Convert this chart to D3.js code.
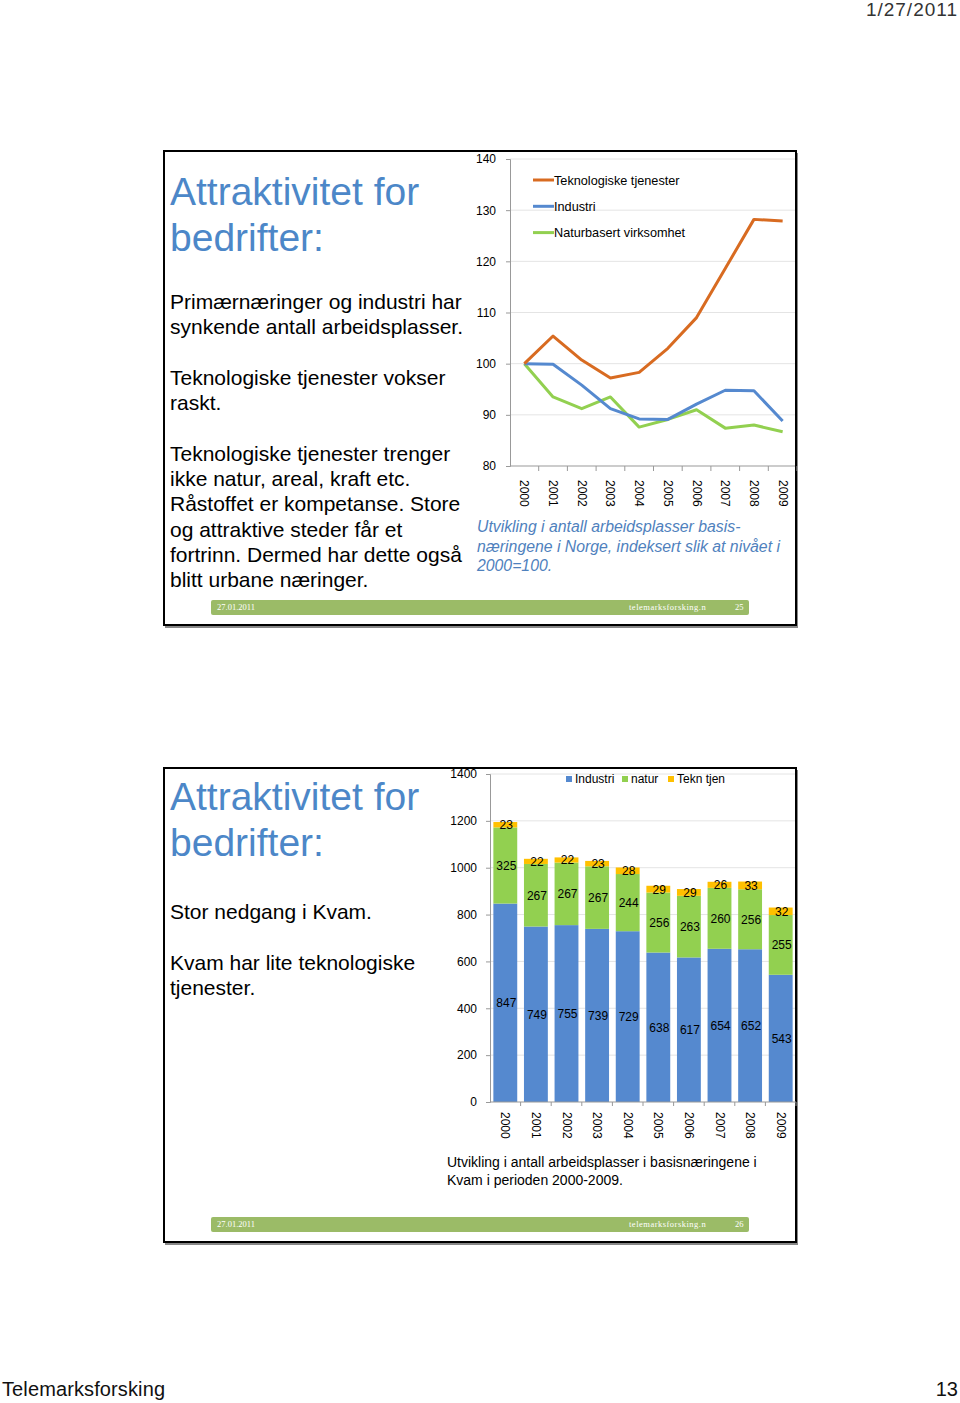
<!DOCTYPE html>
<html lang="no">
<head>
<meta charset="UTF-8">
<title>Attraktivitet for bedrifter</title>
<script src="https://d3js.org/d3.v7.min.js"></script>
<style>
    body { margin: 0; background: #fff; }
    svg { display: block; font-family: "Liberation Sans", Arial, sans-serif; }
    .grid line { stroke: #e4e4e4; }
    .tick text { fill: #000; }
</style>
</head>
<body>
<svg id="page" width="960" height="1403"></svg>
<script>
// --- data ---
const years = ["2000","2001","2002","2003","2004","2005","2006","2007","2008","2009"];

// slide 25: index 2000=100
const teknIndex = [100, 105.4, 100.7, 97.2, 98.3, 103, 109, 118.6, 128.2, 127.9];
const industriIndex = [100, 99.9, 95.8, 91.2, 89.2, 89.1, 92.1, 94.8, 94.7, 88.8];
const naturIndex = [100, 93.5, 91.2, 93.5, 87.6, 89.1, 91.0, 87.4, 88.0, 86.7];
const lineNames = ["Teknologiske tjenester", "Industri", "Naturbasert virksomhet"];
const indexTicks = [80, 90, 100, 110, 120, 130, 140];

// slide 26: Kvam, number of jobs
const kvamIndustri = [847, 749, 755, 739, 729, 638, 617, 654, 652, 543];
const kvamNatur = [325, 267, 267, 267, 244, 256, 263, 260, 256, 255];
const kvamTekn = [23, 22, 22, 23, 28, 29, 29, 26, 33, 32];
const barNames = ["Industri", "natur", "Tekn tjen"];
const countTicks = [0, 200, 400, 600, 800, 1000, 1200, 1400];

const colOrange = "#d86b21", colBlue = "#5589cf", colGreen = "#92d050", colYellow = "#ffc000";
const titleBlue = "#4c87c8";

const svg = d3.select("#page");

// page header / footer
svg.append("text").attr("x", 958).attr("y", 16).attr("text-anchor", "end")
    .attr("font-size", 19).attr("fill", "#333").attr("letter-spacing", 1).text("1/27/2011");
svg.append("text").attr("x", 2).attr("y", 1396).attr("font-size", 20).attr("fill", "#111")
    .attr("textLength", 163).text("Telemarksforsking");
svg.append("text").attr("x", 958).attr("y", 1396).attr("text-anchor", "end")
    .attr("font-size", 20).attr("fill", "#111").text("13");

function slideFrame(top, pageNo) {
    svg.append("rect").attr("x", 165).attr("y", top + 2).attr("width", 633).attr("height", 475)
        .attr("fill", "#888");
    svg.append("rect").attr("x", 164).attr("y", top).attr("width", 632).attr("height", 474)
        .attr("fill", "#fff").attr("stroke", "#000").attr("stroke-width", 2);
    // green footer bar
    const fy = top + 449;
    svg.append("rect").attr("x", 211).attr("y", fy).attr("width", 538).attr("height", 15)
        .attr("rx", 2).attr("fill", "#9bbb67");
    const ft = svg.append("g").attr("font-family", "'Liberation Serif', serif")
        .attr("font-size", 8.5).attr("fill", "#fff");
    ft.append("text").attr("x", 217).attr("y", fy + 10).text("27.01.2011");
    ft.append("text").attr("x", 629).attr("y", fy + 10).attr("letter-spacing", 0.5).text("telemarksforsking.n");
    ft.append("text").attr("x", 735).attr("y", fy + 10).text(pageNo);
}

function textLines(lines, x, y0, step, size, color, italic) {
    const t = svg.append("text").attr("font-size", size).attr("fill", color)
        .attr("font-style", italic ? "italic" : null);
    lines.forEach((s, i) => {
        t.append("tspan").attr("x", x).attr("y", y0 + i * step).text(s);
    });
}

// ---------- slide 25 ----------
slideFrame(151, "25");
textLines(["Attraktivitet for", "bedrifter:"], 170, 205, 46, 39, titleBlue);
textLines(["Primærnæringer og industri har", "synkende antall arbeidsplasser."], 170, 309, 25.3, 21, "#000");
textLines(["Teknologiske tjenester vokser", "raskt."], 170, 385, 25.3, 21, "#000");
textLines(["Teknologiske tjenester trenger", "ikke natur, areal, kraft etc.",
    "Råstoffet er kompetanse. Store", "og attraktive steder får et",
    "fortrinn. Dermed har dette også", "blitt urbane næringer."], 170, 461, 25.2, 21, "#000");
textLines(["Utvikling i antall arbeidsplasser basis-", "næringene i Norge, indeksert slik at nivået i",
    "2000=100."], 477, 532, 19.5, 15.8, "#4f81bd", true);

const lx = d3.scaleBand().domain(years).range([510, 797]);
const ly = d3.scaleLinear().domain([80, 140]).range([466, 159]);

svg.append("g").attr("class", "grid").selectAll("line").data(indexTicks.slice(1)).join("line")
    .attr("x1", 510).attr("x2", 795).attr("y1", d => ly(d)).attr("y2", d => ly(d));

svg.append("g").attr("transform", "translate(510,0)")
    .call(d3.axisLeft(ly).tickValues(indexTicks).tickSize(4).tickPadding(10))
    .call(g => g.selectAll("text").attr("font-size", 12).attr("font-family", "'Liberation Sans', Arial"))
    .call(g => g.selectAll("line,path").attr("stroke", "#999"));

const lxAxis = svg.append("g").attr("transform", "translate(0,466)");
lxAxis.append("line").attr("x1", 510).attr("x2", 795).attr("stroke", "#999");
lxAxis.selectAll(".sep").data(years).join("line").attr("class", "sep")
    .attr("x1", d => lx(d) + lx.bandwidth()).attr("x2", d => lx(d) + lx.bandwidth())
    .attr("y1", 0).attr("y2", 5).attr("stroke", "#999");
lxAxis.selectAll(".yl").data(years).join("text").attr("class", "yl")
    .attr("transform", d => `translate(${lx(d) + lx.bandwidth() / 2 - 4},14) rotate(90)`)
    .attr("font-size", 12).text(d => d);

const lineGen = d3.line().x((d, i) => lx(years[i]) + lx.bandwidth() / 2).y(d => ly(d));
const lineSeries = [teknIndex, industriIndex, naturIndex];
const lineColors = [colOrange, colBlue, colGreen];
// draw in reverse so the orange ends up on top
[2, 1, 0].forEach(k => {
    svg.append("path").datum(lineSeries[k]).attr("d", lineGen).attr("fill", "none")
        .attr("stroke", lineColors[k]).attr("stroke-width", 3).attr("stroke-linejoin", "round");
});

const lleg = svg.append("g");
lineNames.forEach((n, i) => {
    const yy = 180 + i * 26.3;
    lleg.append("line").attr("x1", 533).attr("x2", 554).attr("y1", yy).attr("y2", yy)
        .attr("stroke", lineColors[i]).attr("stroke-width", 3);
    lleg.append("text").attr("x", 554).attr("y", yy + 4.5).attr("font-size", 12.7).text(n);
});

// ---------- slide 26 ----------
slideFrame(768, "26");
textLines(["Attraktivitet for", "bedrifter:"], 170, 810, 46, 39, titleBlue);
textLines(["Stor nedgang i Kvam."], 170, 919, 25.3, 21, "#000");
textLines(["Kvam har lite teknologiske", "tjenester."], 170, 970, 25.3, 21, "#000");
textLines(["Utvikling i antall arbeidsplasser i basisnæringene i", "Kvam i perioden 2000-2009."],
    447, 1167, 17.5, 14, "#000");

const bx = d3.scaleBand().domain(years).range([490, 796]).paddingInner(0.22).paddingOuter(0.11);
const by = d3.scaleLinear().domain([0, 1400]).range([1102, 774]);

svg.append("g").attr("class", "grid").selectAll("line").data(countTicks.slice(1)).join("line")
    .attr("x1", 490).attr("x2", 795).attr("y1", d => by(d)).attr("y2", d => by(d));

svg.append("g").attr("transform", "translate(490,0)")
    .call(d3.axisLeft(by).tickValues(countTicks).tickFormat(d3.format("d")).tickSize(4).tickPadding(9))
    .call(g => g.selectAll("text").attr("font-size", 12).attr("font-family", "'Liberation Sans', Arial"))
    .call(g => g.selectAll("line,path").attr("stroke", "#999"));

const stackRows = years.map((y, i) => ({ year: y, Industri: kvamIndustri[i], natur: kvamNatur[i], "Tekn tjen": kvamTekn[i] }));
const stacked = d3.stack().keys(barNames)(stackRows);
const barColors = [colBlue, colGreen, colYellow];

stacked.forEach((layer, k) => {
    const g = svg.append("g");
    g.selectAll("rect").data(layer).join("rect")
        .attr("x", d => bx(d.data.year)).attr("width", bx.bandwidth())
        .attr("y", d => by(d[1])).attr("height", d => by(d[0]) - by(d[1]))
        .attr("fill", barColors[k]);
    g.selectAll("text").data(layer).join("text")
        .attr("x", d => bx(d.data.year) + bx.bandwidth() / 2 + 1)
        .attr("y", d => by((d[0] + d[1]) / 2) + 4.5)
        .attr("text-anchor", "middle").attr("font-size", 12).attr("fill", "#000")
        .text(d => d[1] - d[0]);
});

const bxAxis = svg.append("g").attr("transform", "translate(0,1102)");
bxAxis.append("line").attr("x1", 490).attr("x2", 796).attr("stroke", "#999");
bxAxis.selectAll(".sep").data(years).join("line").attr("class", "sep")
    .attr("x1", (d, i) => 490 + (i + 1) * 30.6).attr("x2", (d, i) => 490 + (i + 1) * 30.6)
    .attr("y1", 0).attr("y2", 4).attr("stroke", "#999");
bxAxis.selectAll(".yl").data(years).join("text").attr("class", "yl")
    .attr("transform", d => `translate(${bx(d) + bx.bandwidth() / 2 - 4},10) rotate(90)`)
    .attr("font-size", 12).text(d => d);

const bleg = svg.append("g");
const legX = [566, 622, 668];
barNames.forEach((n, i) => {
    bleg.append("rect").attr("x", legX[i]).attr("y", 776).attr("width", 6).attr("height", 6)
        .attr("fill", barColors[i]);
    bleg.append("text").attr("x", legX[i] + 9).attr("y", 783).attr("font-size", 12).text(n);
});
</script>
</body>
</html>
